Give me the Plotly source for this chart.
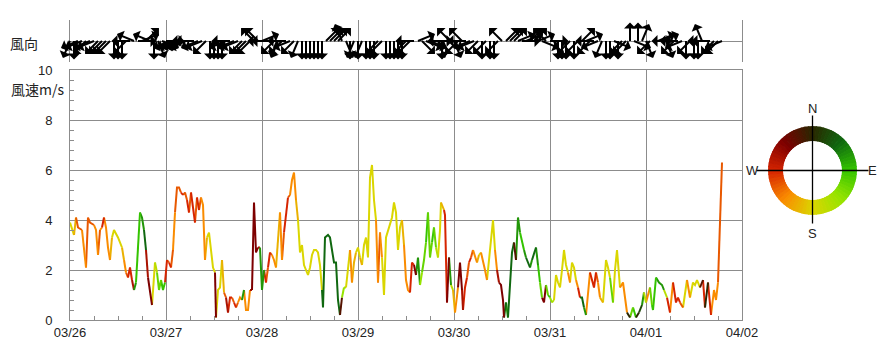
import math
import pandas as pd
import plotly.graph_objects as go

# ---------------- data ----------------
START = "2024-03-26 00:00"
END = "2024-04-02 00:00"

HOURS = [0, 0.5, 1, 1.5, 2, 3, 3.5, 4, 4.5, 5, 6, 6.5, 7, 7.5, 8, 8.5, 9, 9.5, 10, 10.5,
         11, 12, 13, 13.5, 14, 14.5, 15, 15.5, 16, 16.5, 17, 17.5, 18, 18.5, 19, 19.5, 20.5,
         21.25, 21.75, 22.25, 22.75, 23.25, 23.75, 24.25, 24.75, 25.25, 25.75, 26.25, 26.75,
         27.25, 27.75, 28.25, 28.75, 29.25, 29.75, 30.25, 30.75, 31.25, 31.75, 32.25, 32.75,
         33.25, 33.75, 34.25, 34.75, 35.25, 35.75, 36.25, 36.5, 37, 37.5, 38, 38.5, 39, 39.5,
         40, 40.5, 41, 41.5, 42, 42.5, 43, 43.5, 44, 44.5, 45, 45.5, 46, 46.5, 47, 47.5, 48,
         48.5, 49, 49.5, 50, 50.5, 51, 51.5, 52, 52.5, 53, 53.5, 54, 54.5, 55, 55.5, 56, 56.5,
         57, 57.5, 58, 58.5, 59, 59.5, 60, 60.5, 61, 61.5, 62, 62.5, 63, 63.25, 63.75, 64.5,
         65, 65.5, 66, 66.5, 67, 67.5, 68, 68.5, 69, 69.5, 70, 70.5, 71, 71.5, 72, 72.5, 73,
         73.5, 74, 74.5, 75, 75.5, 76, 76.5, 77, 77.5, 78, 78.5, 79, 79.5, 80, 80.5, 81, 81.5,
         82, 82.5, 83, 83.5, 84, 84.5, 85, 85.5, 86, 86.5, 87, 87.5, 88, 88.5, 89, 89.5, 90,
         90.5, 91, 91.5, 92, 92.5, 92.75, 93.5, 93.75, 94.25, 94.75, 95.25, 95.75, 96.25,
         96.75, 97, 97.5, 98, 98.25, 98.75, 99.25, 99.75, 100.25, 100.75, 101.25, 101.75,
         102.25, 102.75, 103.25, 103.75, 104.25, 104.75, 105.25, 105.75, 106.25, 106.75,
         107.25, 107.75, 108.25, 108.5, 109, 109.5, 110, 110.5, 111, 111.5, 112, 112.5, 113,
         113.5, 114, 114.5, 115, 115.5, 116, 116.5, 117, 117.5, 118, 118.5, 119, 119.5, 120,
         120.5, 121, 121.5, 122, 122.5, 123, 123.5, 124, 124.5, 125, 125.5, 126, 126.5, 127,
         127.5, 128, 128.5, 129, 130, 130.5, 131, 131.5, 132, 132.5, 133.25, 134, 134.5, 135,
         135.75, 136.25, 136.75, 137.25, 137.5, 138.25, 139.25, 140, 140.75, 141.5, 142.25,
         143, 143.5, 144, 145, 145.5, 145.75, 146.5, 147.25, 148, 148.5, 149.25, 150, 150.75,
         151.5, 152, 152.5, 153.25, 154.25, 155, 155.75, 156.25, 156.75, 157.5, 158.25,
         158.75, 159.5, 160.25, 161, 161.5, 162, 162.5, 163]

SPEED = [3.9, 3.6, 3.4, 4.1, 3.7, 3.6, 2.8, 2.1, 4.1, 3.9, 3.8, 3.6, 2.6, 3.6, 3.7, 4.1, 3.7,
         2.9, 2.4, 3.3, 3.6, 3.3, 2.9, 2.4, 1.9, 1.7, 2.1, 1.6, 1.2, 1.5, 3.1, 4.3, 4.1, 3.6,
         2.8, 1.7, 0.6, 2.3, 1.9, 1.2, 1.6, 1.2, 1.5, 2.4, 2.3, 2.1, 2.8, 4.3, 5.3, 5.3, 5.1,
         5.0, 5.1, 4.8, 4.3, 5.1, 4.5, 3.9, 4.9, 4.4, 4.9, 4.6, 2.4, 3.3, 3.5, 2.8, 2.1, 1.9,
         0.1, 1.2, 1.3, 2.4, 1.1, 0.9, 0.3, 0.9, 0.9, 0.7, 0.5, 0.7, 0.9, 0.8, 1.2, 0.4, 0.4,
         1.2, 1.2, 4.7, 2.7, 2.9, 2.9, 1.2, 2.0, 1.5, 2.1, 2.7, 2.6, 2.4, 2.1, 3.2, 4.3, 2.4,
         3.5, 4.1, 4.9, 5.0, 5.6, 5.9, 4.8, 4.0, 2.7, 3.0, 2.2, 2.0, 1.8, 2.1, 2.6, 2.8, 2.8,
         2.7, 2.2, 1.2, 0.5, 3.3, 3.4, 3.3, 2.8, 2.3, 2.3, 0.8, 0.2, 0.9, 1.3, 1.3, 2.0, 2.8,
         1.5, 2.3, 2.7, 2.9, 2.5, 2.2, 3.0, 3.3, 2.5, 5.7, 6.2, 4.8, 4.0, 1.5, 3.5, 2.5, 1.0,
         3.3, 3.6, 3.9, 4.1, 4.7, 4.3, 2.8, 3.7, 4.0, 3.0, 1.6, 1.2, 1.1, 2.3, 2.2, 1.8, 2.5,
         1.4, 1.9, 2.4, 3.1, 4.3, 2.5, 3.1, 3.7, 2.9, 2.5, 3.6, 4.7, 4.4, 4.2, 0.7, 2.5, 1.4,
         1.2, 0.3, 1.0, 1.3, 2.3, 1.2, 0.4, 1.3, 1.7, 2.3, 2.5, 2.8, 2.5, 2.3, 2.6, 2.7, 2.4,
         2.0, 1.6, 2.5, 3.2, 4.0, 2.8, 2.0, 1.5, 1.4, 0.8, 0.1, 0.7, 0.1, 1.7, 2.7, 3.1, 2.4,
         4.1, 3.5, 3.2, 2.8, 2.5, 2.3, 2.1, 2.4, 2.7, 2.9, 2.2, 1.5, 0.9, 0.7, 1.4, 1.0, 0.9,
         0.7, 0.8, 1.8, 1.5, 1.3, 2.0, 2.8, 2.2, 1.9, 1.5, 2.3, 2.1, 1.6, 1.3, 0.9, 0.9, 0.5,
         0.2, 1.9, 1.6, 1.3, 1.9, 1.5, 0.9, 0.7, 2.4, 2.1, 1.7, 0.7, 2.0, 2.8, 2.0, 1.3, 1.5,
         0.3, 0.1, 0.5, 0.1, 0.3, 0.6, 1.1, 0.7, 1.3, 0.6, 0.4, 1.7, 1.5, 1.4, 1.2, 0.9, 0.3,
         1.5, 0.7, 0.9, 0.7, 0.5, 1.6, 0.9, 1.5, 1.4, 1.6, 1.3, 1.6, 0.5, 1.5, 0.2, 1.2, 0.8,
         1.5, 4.0, 6.3]

DIRECTION = ["SSW", "S", "S", "SSW", "WSW", "WSW", "SW", "SW", "WSW", "WSW", "WSW", "SW", "SW",
             "WSW", "SW", "W", "SW", "SW", "SW", "SSW", "S", "S", "S", "SSW", "SW", "WSW", "W",
             "W", "WNW", "ENE", "E", "E", "ENE", "ENE", "NE", "WNW", "NW", "S", "SSE", "ESE",
             "ESE", "E", "E", "W", "WSW", "W", "WSW", "SW", "WSW", "WSW", "WSW", "W", "WSW",
             "WSW", "W", "WSW", "W", "W", "WSW", "W", "WSW", "SW", "SW", "SSW", "S", "S", "S",
             "S", "NW", "S", "S", "S", "SSW", "WSW", "WNW", "W", "W", "WSW", "W", "WSW", "SW",
             "SW", "ENE", "SW", "SW", "SW", "WNW", "NW", "NW", "NW", "WNW", "ENE", "ENE", "W",
             "WSW", "W", "WSW", "SW", "SW", "SSW", "SSW", "SW", "WSW", "W", "W", "WSW", "SW",
             "SW", "SW", "SSW", "S", "S", "S", "S", "S", "S", "S", "S", "S", "S", "S", "S", "NE",
             "NE", "NE", "NE", "NE", "NE", "NE", "NE", "NE", "NNW", "SE", "SSE", "S", "S", "SW",
             "SSW", "SSW", "S", "S", "SSW", "S", "S", "S", "S", "S", "S", "S", "SW", "WSW", "SW",
             "S", "S", "S", "S", "S", "S", "S", "S", "S", "S", "SSW", "SW", "SW", "SW", "W", "W",
             "NW", "ENE", "ENE", "SE", "ESE", "ESE", "E", "ESE", "ESE", "E", "ESE", "SSE", "S",
             "S", "SSW", "W", "W", "NW", "ENE", "SSE", "SSW", "SW", "SW", "NW", "NW", "WNW", "W",
             "W", "WSW", "W", "WSW", "SW", "SW", "SSW", "S", "SW", "SW", "SW", "S", "S", "S", "S",
             "SW", "WNW", "NW", "NW", "NW", "NE", "ENE", "NE", "NE", "NE", "NNW", "ENE", "ENE",
             "E", "E", "ENE", "NE", "NE", "ENE", "NE", "NE", "ENE", "E", "ESE", "NW", "NW", "ESE",
             "E", "SE", "SSE", "S", "S", "S", "S", "S", "S", "S", "SW", "S", "S", "S", "SW", "W",
             "NE", "NE", "ENE", "SW", "W", "W", "W", "WSW", "SW", "SSW", "S", "S", "S", "ESE",
             "S", "S", "S", "S", "SW", "SW", "N", "ESE", "E", "N", "NNE", "ENE", "SSE", "SW",
             "ESE", "E", "E", "ENE", "ENE", "ENE", "SSE", "W", "SW", "W", "W", "W", "WSW", "S",
             "SW", "S", "S", "S", "S", "NNW", "W", "N", "W", "SW", "SW", "SW", "WSW", "WSW"]

COMPASS = ["N", "NNE", "NE", "ENE", "E", "ESE", "SE", "SSE",
           "S", "SSW", "SW", "WSW", "W", "WNW", "NW", "NNW"]
WHEEL_LABELS = ["N", "E", "S", "W"]
Y_TITLE = "風速m/s"
STRIP_TITLE = "風向"

# ---------------- style / layout constants ----------------
W, H = 890, 350
PL, PR, PT, PB = 70, 742, 70, 320          # main plot box (px)
ST, SB = 20, 62                            # direction strip (px)
GRID = "#8c8c8c"
TXT = "#222222"
NUM_FONT = "Liberation Sans, Arial, sans-serif"
JP_FONT = "Noto Sans CJK JP, sans-serif"
ARROW_LEN = 19
ARROW_STEP_H = 1            # one direction arrow per hour
WHEEL_C = (812.5, 170.5)
WHEEL_R, WHEEL_RI = 44.5, 29.5

ANCHORS = [(0, (42, 38, 0)), (45, (16, 104, 16)), (90, (52, 196, 0)), (135, (150, 228, 0)),
           (180, (218, 214, 0)), (225, (250, 140, 0)), (270, (214, 36, 0)),
           (315, (125, 0, 0)), (360, (42, 38, 0))]


def wheel_hex(deg):
    deg = deg % 360
    for (a0, c0), (a1, c1) in zip(ANCHORS[:-1], ANCHORS[1:]):
        if a0 <= deg <= a1:
            t = (deg - a0) / (a1 - a0)
            c = [round(c0[k] + (c1[k] - c0[k]) * t) for k in range(3)]
            return "#%02x%02x%02x" % tuple(c)
    return "#000000"


def fx(p):
    return p / W


def fy(p):
    return 1 - p / H


t0 = pd.Timestamp(START)


def tfmt(h):
    return (t0 + pd.Timedelta(hours=h)).strftime("%Y-%m-%d %H:%M:%S")


tstr = [tfmt(h) for h in HOURS]
degs = [COMPASS.index(d) * 22.5 for d in DIRECTION]

fig = go.Figure()

# wind speed line, coloured by direction (grouped per colour)
groups = {}
for i in range(len(tstr) - 1):
    col = wheel_hex(degs[i + 1])
    gx, gy = groups.setdefault(col, ([], []))
    if gx and gx[-1] == tstr[i]:
        gx.append(tstr[i + 1]); gy.append(SPEED[i + 1])
    else:
        if gx:
            gx.append(None); gy.append(None)
        gx.extend([tstr[i], tstr[i + 1]]); gy.extend([SPEED[i], SPEED[i + 1]])
for col, (gx, gy) in groups.items():
    fig.add_trace(go.Scatter(x=gx, y=gy, mode="lines", line=dict(color=col, width=2),
                             hoverinfo="skip", showlegend=False, xaxis="x", yaxis="y"))

# invisible trace to activate the strip axes
fig.add_trace(go.Scatter(x=[START, END], y=[0, 0], mode="lines", line=dict(width=0),
                         hoverinfo="skip", showlegend=False, xaxis="x2", yaxis="y2"))

# colour wheel
NSEG = 72
wheel_cols = [wheel_hex(i * 360 / NSEG + 180 / NSEG) for i in range(NSEG)]
fig.add_trace(go.Barpolar(
    theta=[i * 360 / NSEG + 180 / NSEG for i in range(NSEG)],
    r=[1] * NSEG, width=[360 / NSEG] * NSEG,
    marker=dict(color=wheel_cols, line=dict(color=wheel_cols, width=1)),
    hoverinfo="skip", showlegend=False, subplot="polar"))

annotations = []
# hourly direction arrows in the strip: direction of the observation nearest each hour
n_arrows = int(HOURS[-1] // ARROW_STEP_H) + 1
for k in range(n_arrows):
    h = k * ARROW_STEP_H
    j = min(range(len(HOURS)), key=lambda i: abs(HOURS[i] - h))
    r = math.radians(degs[j])
    annotations.append(dict(
        x=tfmt(h), y=0, xref="x2", yref="y2", text="", showarrow=True,
        ax=ARROW_LEN * math.sin(r), ay=-ARROW_LEN * math.cos(r),
        font=dict(size=1), borderpad=0, borderwidth=0, width=1, height=1,
        arrowside="start", arrowhead=2, arrowsize=0.45, arrowwidth=2, arrowcolor="#000000"))

# titles
annotations.append(dict(x=fx(24), y=fy(43), xref="paper", yref="paper", text=STRIP_TITLE,
                        xanchor="center", yanchor="middle", showarrow=False,
                        font=dict(family=JP_FONT, size=14, color=TXT)))
annotations.append(dict(x=fx(37), y=fy(89), xref="paper", yref="paper", text=Y_TITLE,
                        xanchor="center", yanchor="middle", showarrow=False,
                        font=dict(family=JP_FONT, size=14, color=TXT)))

# wheel labels and cross
cx, cy = WHEEL_C
lab_off = {"N": (0, -62), "E": (60, 0), "S": (0, 63), "W": (-60, 0)}
for lab in WHEEL_LABELS:
    dx, dy = lab_off[lab]
    annotations.append(dict(x=fx(cx + dx), y=fy(cy + dy), xref="paper", yref="paper",
                            text=lab, showarrow=False, xanchor="center", yanchor="middle",
                            font=dict(family=NUM_FONT, size=13, color=TXT)))

shapes = [
    dict(type="line", xref="paper", yref="paper", x0=fx(cx - 56), x1=fx(cx + 56),
         y0=fy(cy), y1=fy(cy), line=dict(color="#000000", width=1.3), layer="above"),
    dict(type="line", xref="paper", yref="paper", x0=fx(cx), x1=fx(cx),
         y0=fy(cy - 55), y1=fy(cy + 53), line=dict(color="#000000", width=1.3), layer="above"),
]

DAY_MS = 86400000
fig.update_layout(
    width=W, height=H, margin=dict(l=0, r=0, t=0, b=0, pad=0, autoexpand=False),
    paper_bgcolor="white", plot_bgcolor="white", showlegend=False,
    font=dict(family=NUM_FONT, size=13, color=TXT),
    xaxis=dict(domain=[fx(PL), fx(PR)], anchor="y", type="date", range=[START, END],
               tick0=START, dtick=DAY_MS, tickformat="%m/%d", showgrid=True, gridcolor=GRID,
               gridwidth=1, showline=True, linecolor=GRID, linewidth=1, mirror=True,
               ticks="", zeroline=False, automargin=False,
               minor=dict(dtick=DAY_MS / 4, ticks="inside", ticklen=4, tickcolor=GRID,
                          showgrid=False),
               tickfont=dict(family=NUM_FONT, size=13, color=TXT), fixedrange=True),
    yaxis=dict(domain=[fy(PB), fy(PT)], anchor="x", range=[0, 10], dtick=2, tick0=0,
               showgrid=True, gridcolor=GRID, gridwidth=1, showline=True, linecolor=GRID,
               mirror=True, ticks="", zeroline=False, ticklabelstandoff=14, automargin=False,
               minor=dict(dtick=0.4, tick0=0, ticks="inside", ticklen=4, tickcolor=GRID,
                          showgrid=False),
               tickfont=dict(family=NUM_FONT, size=13, color=TXT), fixedrange=True),
    xaxis2=dict(domain=[fx(PL), fx(PR)], anchor="y2", type="date", range=[START, END],
                matches="x", tick0=START, dtick=DAY_MS, showgrid=True, gridcolor=GRID,
                showticklabels=False, ticks="", showline=False, zeroline=False,
                automargin=False, fixedrange=True),
    yaxis2=dict(domain=[fy(SB), fy(ST)], anchor="x2", range=[-1, 1], showgrid=False,
                showticklabels=False, ticks="", zeroline=True, zerolinecolor=GRID,
                zerolinewidth=1, showline=True, linecolor=GRID, mirror=True,
                automargin=False, fixedrange=True),
    polar=dict(domain=dict(x=[fx(cx - WHEEL_R), fx(cx + WHEEL_R)],
                           y=[fy(cy + WHEEL_R), fy(cy - WHEEL_R)]),
               hole=WHEEL_RI / WHEEL_R, bgcolor="rgba(0,0,0,0)",
               radialaxis=dict(visible=False, range=[0, 1]),
               angularaxis=dict(visible=False, rotation=90, direction="clockwise")),
    annotations=annotations, shapes=shapes,
)

fig.write_html("out.html")
